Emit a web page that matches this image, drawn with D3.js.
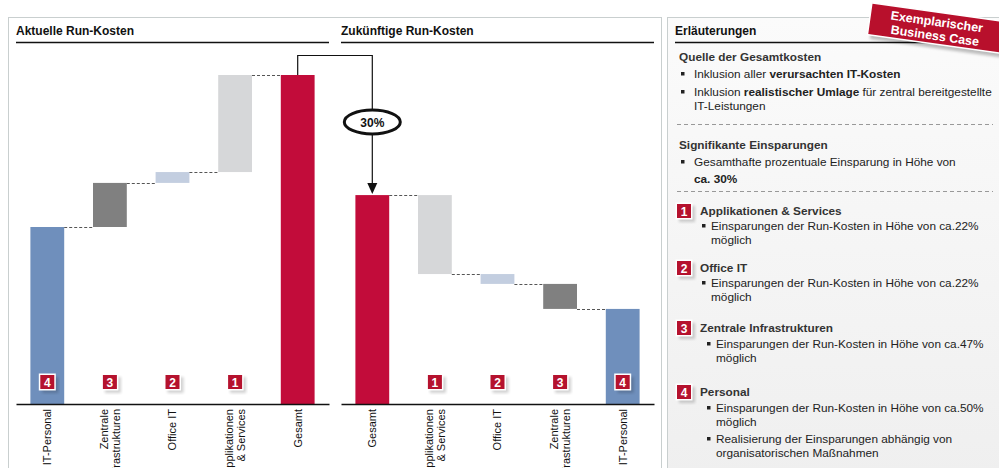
<html>
<head>
    <meta charset="utf-8">
    <style>
        body { margin: 0; background: #ffffff; }
        svg { font-family: "Liberation Sans", Arial, sans-serif; }
    </style>
</head>
<body>
    <svg id="chart" width="999" height="468"></svg>

    <script src="https://d3js.org/d3.v7.min.js"></script>
    <script type="text/javascript">
        // current run costs (index 100 = total)
        const currentCats = ["IT-Personal", "Zentrale\nInfrastrukturen", "Office IT", "Applikationen\n& Services", "Gesamt"];
        const currentValues = [53.8, 13.4, 3.3, 29.5];
        const currentBadges = ["4", "3", "2", "1"];

        // future run costs: savings per block, remaining IT-Personal
        const futureCats = ["Gesamt", "Applikationen\n& Services", "Office IT", "Zentrale\nInfrastrukturen", "IT-Personal"];
        const futureSavings = [24.0, 3.0, 7.6];
        const futureRest = 28.9;
        const futureBadges = ["1", "2", "3", "4"];

        const savingLabel = "30%";
        const colors = ["#6f8fbc", "#808080", "#c3cee0", "#d6d7d9"];
        const red = "#c20c3a";

        const svg = d3.select('#chart');

        // panels
        svg.append('rect').attr('x', 8.5).attr('y', 17.5).attr('width', 653).attr('height', 460)
            .attr('fill', '#fff').attr('stroke', '#c9cfcf');
        const grad = svg.append('defs').append('linearGradient').attr('id', 'pg')
            .attr('x1', 0).attr('y1', 0).attr('x2', 0).attr('y2', 1);
        grad.append('stop').attr('offset', '0%').attr('stop-color', '#fbfbfb');
        grad.append('stop').attr('offset', '100%').attr('stop-color', '#efefef');
        svg.append('rect').attr('x', 667.5).attr('y', 17.5).attr('width', 340).attr('height', 460)
            .attr('fill', 'url(#pg)').attr('stroke', '#c9cfcf');

        const y = d3.scaleLinear().domain([0, 100]).range([404, 75]);

        function heading(x0, x1, label) {
            svg.append('text').attr('x', x0).attr('y', 35).attr('font-size', 12).attr('font-weight', 'bold')
                .attr('fill', '#111').text(label);
            svg.append('line').attr('x1', x0).attr('x2', x1).attr('y1', 42.5).attr('y2', 42.5)
                .attr('stroke', '#111').attr('stroke-width', 1.5);
        }
        heading(16, 329, "Aktuelle Run-Kosten");
        heading(341, 654, "Zukünftige Run-Kosten");
        heading(675, 999, "Erläuterungen");

        function badge(g, cx, cy, label, size) {
            const s = size || 14;
            g.append('rect').attr('x', cx - s / 2 + 2).attr('y', cy - s / 2 + 2).attr('width', s + 2).attr('height', s + 2)
                .attr('fill', '#000').attr('opacity', 0.18).attr('filter', 'url(#blur)');
            g.append('rect').attr('x', cx - s / 2 - 1.5).attr('y', cy - s / 2 - 1.5).attr('width', s + 3).attr('height', s + 3)
                .attr('fill', '#fff');
            g.append('rect').attr('x', cx - s / 2).attr('y', cy - s / 2).attr('width', s).attr('height', s)
                .attr('fill', '#b5122e');
            g.append('text').attr('x', cx).attr('y', cy + 4.5).attr('text-anchor', 'middle')
                .attr('font-size', 12).attr('font-weight', 'bold').attr('fill', '#fff').text(label);
        }
        svg.select('defs').append('filter').attr('id', 'blur')
            .append('feGaussianBlur').attr('stdDeviation', 1.5);

        function waterfall(cats, bars, badges, badgeIdx, x0, x1) {
            const x = d3.scaleBand().domain(cats).range([x0, x1]).paddingInner(0.46).paddingOuter(0.23);
            const g = svg.append('g');
            g.selectAll('rect.bar').data(bars).enter().append('rect')
                .attr('class', 'bar')
                .attr('x', d => x(d.cat)).attr('width', x.bandwidth())
                .attr('y', d => y(Math.max(d.from, d.to)))
                .attr('height', d => Math.abs(y(d.from) - y(d.to)))
                .attr('fill', d => d.color);
            // connectors
            for (let i = 0; i < bars.length - 1; i++) {
                const lvl = bars[i].to;
                g.append('line')
                    .attr('x1', x(bars[i].cat) + x.bandwidth()).attr('x2', x(bars[i + 1].cat))
                    .attr('y1', Math.round(y(lvl)) + 0.5).attr('y2', Math.round(y(lvl)) + 0.5)
                    .attr('stroke', '#555').attr('stroke-dasharray', '3,2');
            }
            // axis
            const axis = g.append('g').attr('transform', 'translate(0,404)')
                .call(d3.axisBottom(x).tickSize(0).tickFormat(''));
            axis.select('.domain').attr('stroke', '#111').attr('stroke-width', 1.5);
            cats.forEach(c => {
                const lines = c.split('\n');
                const cx = x(c) + x.bandwidth() / 2;
                const t = g.append('text').attr('transform', `translate(${cx},409) rotate(-90)`)
                    .attr('text-anchor', 'end').attr('font-size', 11).attr('fill', '#111');
                lines.forEach((l, i) => {
                    t.append('tspan').attr('x', 0)
                        .attr('dy', i === 0 ? (0.35 - (lines.length - 1) * 0.55) + 'em' : '1.1em')
                        .text(l);
                });
            });
            badges.forEach((b, i) => {
                const c = cats[badgeIdx[i]];
                badge(g, x(c) + x.bandwidth() / 2, 382, b);
            });
            return x;
        }

        // build current bars
        let acc = 0;
        const curBars = currentValues.map((v, i) => {
            const b = { cat: currentCats[i], from: acc, to: acc + v, color: colors[i] };
            acc += v;
            return b;
        });
        const curTotal = acc;
        curBars.push({ cat: "Gesamt", from: 0, to: curTotal, color: red });
        const xl = waterfall(currentCats, curBars, currentBadges, [0, 1, 2, 3], 16, 329);

        // build future bars
        let futTotal = futureRest + d3.sum(futureSavings);
        const futBars = [{ cat: "Gesamt", from: 0, to: futTotal, color: red }];
        let lvl = futTotal;
        const futColors = [colors[3], colors[2], colors[1]];
        futureSavings.forEach((v, i) => {
            futBars.push({ cat: futureCats[i + 1], from: lvl, to: lvl - v, color: futColors[i] });
            lvl -= v;
        });
        futBars.push({ cat: "IT-Personal", from: 0, to: futureRest, color: colors[0] });
        const xr = waterfall(futureCats, futBars, futureBadges, [1, 2, 3, 4], 341, 654);

        // saving arrow
        const ax0 = xl("Gesamt") + xl.bandwidth() / 2;
        const ax1 = xr("Gesamt") + xr.bandwidth() / 2;
        const topY = 55.5;
        svg.append('path')
            .attr('d', `M${ax0},${y(curTotal)} V${topY} H${ax1} V${y(futTotal) - 10}`)
            .attr('fill', 'none').attr('stroke', '#111').attr('stroke-width', 1.2);
        svg.append('path')
            .attr('d', `M${ax1 - 5},${y(futTotal) - 12} L${ax1 + 5},${y(futTotal) - 12} L${ax1},${y(futTotal) - 1} Z`)
            .attr('fill', '#111');
        svg.append('ellipse').attr('cx', ax1).attr('cy', 122).attr('rx', 28).attr('ry', 12)
            .attr('fill', '#fff').attr('stroke', '#111').attr('stroke-width', 3);
        svg.append('text').attr('x', ax1).attr('y', 126.5).attr('text-anchor', 'middle')
            .attr('font-size', 12).attr('font-weight', 'bold').attr('fill', '#111').text(savingLabel);

        // right panel text
        const txt = svg.append('g').attr('font-size', 11.8).attr('fill', '#222');
        function line(x, yy, parts, opts) {
            const t = txt.append('text').attr('x', x).attr('y', yy);
            if (opts && opts.bold) t.attr('font-weight', 'bold');
            if (opts && opts.color) t.attr('fill', opts.color);
            (Array.isArray(parts) ? parts : [[parts, false]]).forEach(p => {
                t.append('tspan').attr('font-weight', p[1] ? 'bold' : null).text(p[0]);
            });
        }
        function bullet(x, yy) {
            txt.append('rect').attr('x', x).attr('y', yy - 6).attr('width', 3.5).attr('height', 3.5).attr('fill', '#222');
        }
        line(679, 61, "Quelle der Gesamtkosten", { bold: true, color: '#333' });
        bullet(681, 78); line(694, 78, [["Inklusion aller ", false], ["verursachten IT-Kosten", true]]);
        bullet(681, 96); line(694, 96, [["Inklusion ", false], ["realistischer Umlage", true], [" für zentral bereitgestellte", false]]);
        line(694, 110, "IT-Leistungen");
        txt.append('line').attr('x1', 677).attr('x2', 993).attr('y1', 124.5).attr('y2', 124.5)
            .attr('stroke', '#999').attr('stroke-dasharray', '4,3');

        line(679, 149, "Signifikante Einsparungen", { bold: true, color: '#333' });
        bullet(681, 166); line(694, 166, "Gesamthafte prozentuale Einsparung in Höhe von");
        line(694, 183, [["ca. 30%", true]]);
        txt.append('line').attr('x1', 677).attr('x2', 993).attr('y1', 191.5).attr('y2', 191.5)
            .attr('stroke', '#999').attr('stroke-dasharray', '4,3');

        badge(txt, 684, 211, "1"); line(700, 215, "Applikationen & Services", { bold: true, color: '#333' });
        bullet(702, 230); line(711, 230, "Einsparungen der Run-Kosten in Höhe von ca.22%");
        line(711, 244, "möglich");

        badge(txt, 684, 268, "2"); line(700, 272, "Office IT", { bold: true, color: '#333' });
        bullet(702, 287); line(711, 287, "Einsparungen der Run-Kosten in Höhe von ca.22%");
        line(711, 301, "möglich");

        badge(txt, 684, 328, "3"); line(700, 332, "Zentrale Infrastrukturen", { bold: true, color: '#333' });
        bullet(707, 348); line(716, 348, "Einsparungen der Run-Kosten in Höhe von ca.47%");
        line(716, 362, "möglich");

        badge(txt, 684, 392, "4"); line(700, 396, "Personal", { bold: true, color: '#333' });
        bullet(707, 412); line(716, 412, "Einsparungen der Run-Kosten in Höhe von ca.50%");
        line(716, 426, "möglich");
        bullet(707, 443); line(716, 443, "Realisierung der Einsparungen abhängig von");
        line(716, 457, "organisatorischen Maßnahmen");

        // stamp
        const st = svg.append('g').attr('transform', 'translate(936,28) rotate(8)');
        st.append('rect').attr('x', -66).attr('y', -15).attr('width', 136).attr('height', 32)
            .attr('fill', '#000').attr('opacity', 0.25).attr('filter', 'url(#blur)').attr('transform', 'translate(2,3)');
        st.append('rect').attr('x', -67).attr('y', -16).attr('width', 136).attr('height', 32)
            .attr('fill', '#b8102c').attr('stroke', '#fff').attr('stroke-width', 1.5);
        st.append('text').attr('x', 0).attr('y', -2).attr('text-anchor', 'middle').attr('font-size', 12.5)
            .attr('font-weight', 'bold').attr('fill', '#fff').text("Exemplarischer");
        st.append('text').attr('x', 0).attr('y', 12).attr('text-anchor', 'middle').attr('font-size', 12.5)
            .attr('font-weight', 'bold').attr('fill', '#fff').text("Business Case");
    </script>
</body>
</html>
